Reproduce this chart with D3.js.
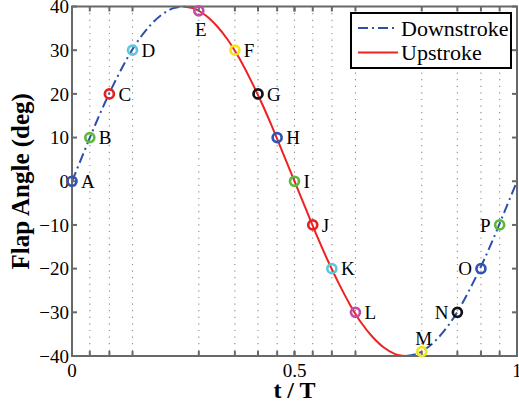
<!DOCTYPE html>
<html>
<head>
<meta charset="utf-8">
<script src="https://cdn.jsdelivr.net/npm/d3@7"></script>
<style>
  body { margin: 0; background: #fff; }
  svg { display: block; font-family: "Liberation Serif", "Times New Roman", serif; }
</style>
</head>
<body>
<svg id="chart" width="519" height="408"></svg>
<script>
// Flap angle curve
const curveT = [0, 0.025, 0.05, 0.075, 0.1, 0.125, 0.15, 0.175, 0.2, 0.225, 0.25,
  0.275, 0.3, 0.325, 0.35, 0.375, 0.4, 0.425, 0.45, 0.475, 0.5,
  0.525, 0.55, 0.575, 0.6, 0.625, 0.65, 0.675, 0.7, 0.725, 0.75,
  0.775, 0.8, 0.825, 0.85, 0.875, 0.9, 0.925, 0.95, 0.975, 1];
const curveAngle = [0, 6.2, 12.4, 18.2, 23.5, 28.3, 32.4, 35.6, 38, 39.5, 40,
  39.5, 38, 35.6, 32.4, 28.3, 23.5, 18.2, 12.4, 6.2, 0,
  -6.2, -12.4, -18.2, -23.5, -28.3, -32.4, -35.6, -38, -39.5, -40,
  -39.5, -38, -35.6, -32.4, -28.3, -23.5, -18.2, -12.4, -6.2, 0];

// marked instants A..P
const markerNames = ["A", "B", "C", "D", "E", "F", "G", "H", "I", "J", "K", "L", "M", "N", "O", "P"];
const markerT = [0, 0.04, 0.084, 0.136, 0.285, 0.366, 0.418, 0.461, 0.5, 0.541, 0.584, 0.637, 0.786, 0.866, 0.919, 0.961];
const markerAngle = [0, 10, 20, 30, 39, 30, 20, 10, 0, -10, -20, -30, -39, -30, -20, -10];
const markerColors = ["#3253b4", "#5db83e", "#e8211f", "#5fc6dc", "#c04ea6", "#f2e51c", "#111111"];
// where the letter sits relative to its circle
const labelSide = ["r", "r", "r", "r", "b", "r", "r", "r", "r", "r", "r", "r", "t", "l", "l", "l"];

const xTickLabels = [0, 0.5, 1];
const yTicks = [-40, -30, -20, -10, 0, 10, 20, 30, 40];

const svg = d3.select("#chart");
const m = {left: 72, right: 517, top: 6.5, bottom: 356};

const x = d3.scaleLinear().domain([0, 1]).range([m.left, m.right]);
const y = d3.scaleLinear().domain([-40, 40]).range([m.bottom, m.top]);

const axisColor = "#686868";
const tickFont = 19;

// dotted grid at the marked instants
svg.append("g").selectAll("line")
  .data(markerT.filter(t => t > 0 && t < 1)).enter()
  .append("line")
  .attr("x1", d => x(d)).attr("x2", d => x(d))
  .attr("y1", m.top).attr("y2", m.bottom)
  .attr("stroke", "#8a8a8a").attr("stroke-width", 1.1)
  .attr("stroke-dasharray", "1.2,5.4");

// curve pieces
let pts = curveT.map((t, i) => ({t: t, a: curveAngle[i]}));
let line = d3.line().x(d => x(d.t)).y(d => y(d.a)).curve(d3.curveCatmullRom);

let down1 = pts.filter(d => d.t <= 0.25);
let up = pts.filter(d => d.t >= 0.25 && d.t <= 0.75);
let down2 = pts.filter(d => d.t >= 0.75);

const downStyle = {color: "#2d4faa", dash: "10,4,2,4"};
const upStyle = {color: "#ee2222", dash: null};

[down1, down2].forEach(seg => {
  svg.append("path").datum(seg).attr("d", line)
    .attr("fill", "none").attr("stroke", downStyle.color)
    .attr("stroke-width", 2).attr("stroke-dasharray", downStyle.dash);
});
svg.append("path").datum(up).attr("d", line)
  .attr("fill", "none").attr("stroke", upStyle.color).attr("stroke-width", 2);

// axes box + ticks
let ag = svg.append("g").attr("stroke", axisColor).attr("stroke-width", 2);
ag.append("rect")
  .attr("x", m.left).attr("y", m.top)
  .attr("width", m.right - m.left).attr("height", m.bottom - m.top)
  .attr("fill", "none");

let tl = 5;
yTicks.forEach(v => {
  ag.append("line").attr("x1", m.left).attr("x2", m.left + tl).attr("y1", y(v)).attr("y2", y(v));
  ag.append("line").attr("x1", m.right).attr("x2", m.right - tl).attr("y1", y(v)).attr("y2", y(v));
});
let xTickPos = markerT.concat([0.5, 1]);
xTickPos.forEach(v => {
  ag.append("line").attr("x1", x(v)).attr("x2", x(v)).attr("y1", m.bottom).attr("y2", m.bottom - tl);
  ag.append("line").attr("x1", x(v)).attr("x2", x(v)).attr("y1", m.top).attr("y2", m.top + tl);
});

// tick labels
svg.append("g").selectAll("text")
  .data(yTicks).enter()
  .append("text")
  .attr("x", m.left - 3).attr("y", d => y(d))
  .attr("dy", "0.35em")
  .attr("text-anchor", "end")
  .attr("font-size", tickFont)
  .text(d => d < 0 ? "\u2212" + Math.abs(d) : d);

svg.append("g").selectAll("text")
  .data(xTickLabels).enter()
  .append("text")
  .attr("x", d => x(d)).attr("y", 377)
  .attr("text-anchor", "middle")
  .attr("font-size", tickFont)
  .text(d => d);

// axis titles
svg.append("text")
  .attr("x", x(0.5)).attr("y", 398)
  .attr("text-anchor", "middle")
  .attr("font-size", 24).attr("font-weight", "bold")
  .text("t / T");

svg.append("text")
  .attr("transform", "translate(29," + y(0) + ") rotate(-90)")
  .attr("text-anchor", "middle")
  .attr("font-size", 25).attr("font-weight", "bold")
  .text("Flap Angle (deg)");

// markers
let mk = markerT.map((t, i) => ({t: t, a: markerAngle[i], name: markerNames[i],
  color: markerColors[i % markerColors.length], side: labelSide[i]}));

svg.append("g").selectAll("circle")
  .data(mk).enter()
  .append("circle")
  .attr("cx", d => x(d.t)).attr("cy", d => y(d.a))
  .attr("r", 4.5)
  .attr("fill", "none")
  .attr("stroke", d => d.color)
  .attr("stroke-width", 2.7);

svg.append("g").selectAll("text")
  .data(mk).enter()
  .append("text")
  .attr("x", d => {
    if (d.side == "r") return x(d.t) + 9;
    if (d.side == "l") return x(d.t) - 9;
    return x(d.t) + 2;
  })
  .attr("y", d => {
    if (d.side == "b") return y(d.a) + 18;
    if (d.side == "t") return y(d.a) - 13;
    return y(d.a);
  })
  .attr("dy", "0.35em")
  .attr("text-anchor", d => d.side == "r" ? "start" : (d.side == "l" ? "end" : "middle"))
  .attr("font-size", 19)
  .text(d => d.name);

// legend
let lg = svg.append("g");
lg.append("rect")
  .attr("x", 351).attr("y", 13).attr("width", 160).attr("height", 55)
  .attr("fill", "#fff").attr("stroke", "#000").attr("stroke-width", 2);

let legendItems = [
  {name: "Downstroke", style: downStyle, yy: 28},
  {name: "Upstroke", style: upStyle, yy: 52.5}
];
legendItems.forEach(it => {
  lg.append("line")
    .attr("x1", 358).attr("x2", 398).attr("y1", it.yy).attr("y2", it.yy)
    .attr("stroke", it.style.color).attr("stroke-width", 2)
    .attr("stroke-dasharray", it.style.dash);
  lg.append("text")
    .attr("x", 401).attr("y", it.yy).attr("dy", "0.35em")
    .attr("font-size", 22)
    .text(it.name);
});
</script>
</body>
</html>
